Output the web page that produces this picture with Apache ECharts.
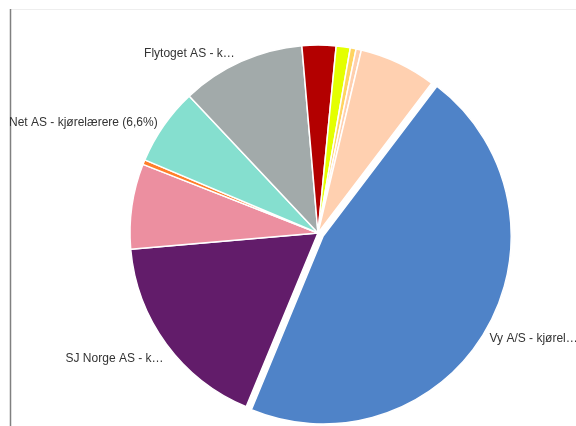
<!DOCTYPE html>
<html>
<head>
<meta charset="utf-8">
<script src="https://cdn.jsdelivr.net/npm/echarts@6/dist/echarts.min.js"></script>
<style>
html,body{margin:0;padding:0;background:#fff;}
#c{width:576px;height:426px;}
</style>
</head>
<body>
<div id="c"></div>
<script>
// Data (clockwise order as drawn)
const names = [
  "Vy A/S - kjørelærere",
  "SJ Norge AS - kjørelærere",
  "Go-Ahead Norge AS - kjørelærere",
  "CargoNet AS - kjørelærere",
  "Net AS - kjørelærere",
  "Flytoget AS - kjørelærere",
  "Vy Gjøvikbanen AS - kjørelærere",
  "Bane NOR SF - kjørelærere",
  "Green Cargo AB - kjørelærere",
  "Hector Rail AB - kjørelærere",
  "Andre - kjørelærere"
];
const values = [45.7, 17.3, 7.3, 0.4, 6.6, 10.6, 2.9, 1.2, 0.5, 0.45, 6.6];
const colors = ["#4f83c8", "#621c6a", "#ec8fa0", "#ff7f2a", "#85dfcf", "#a2aaaa", "#b30000", "#e4ff00", "#ffd461", "#ffcfae", "#ffd0b0"];
// characters kept before the ellipsis (0 = no label, -1 = full label)
const labelChars = [15, 15, 0, 0, -1, 15, 0, 0, 0, 0, 0];
const explodedIndex = 0;

const total = values.reduce((a, b) => a + b, 0);
const chart = echarts.init(document.getElementById('c'), null, {renderer: 'canvas'});
const data = names.map((n, i) => ({
  name: n,
  value: values[i],
  selected: i === explodedIndex,
  itemStyle: {color: colors[i]},
  label: {show: labelChars[i] !== 0}
}));

// small label nudges (layout only)
const nudge = {0: [-9, 6], 1: [9, 11], 4: [6, 0], 5: [3, -2]};

chart.setOption({
  animation: false,
  graphic: [
    {type: 'line', shape: {x1: 10, y1: 9.5, x2: 576, y2: 9.5}, style: {stroke: '#eeeeee', lineWidth: 1}, z: -5},
    {type: 'line', shape: {x1: 10.5, y1: 9, x2: 10.5, y2: 426}, style: {stroke: '#808080', lineWidth: 1.5}, z: -5}
  ],
  series: [{
    type: 'pie',
    center: [318, 233],
    radius: 188,
    startAngle: 52.8,
    clockwise: true,
    selectedMode: 'single',
    selectedOffset: 6,
    avoidLabelOverlap: false,
    itemStyle: {borderColor: '#ffffff', borderWidth: 1.5},
    label: {
      show: true,
      position: 'outside',
      color: '#333333',
      fontSize: 12,
      fontFamily: 'Liberation Sans, Arial, sans-serif',
      formatter: function (p) {
        const pct = (p.value / total * 100).toFixed(1).replace('.', ',');
        const full = p.name + ' (' + pct + '%)';
        const n = labelChars[p.dataIndex];
        if (n < 0) return full;
        return full.length > n ? full.slice(0, n) + '…' : full;
      }
    },
    labelLine: {show: false, length: 6, length2: 2},
    labelLayout: function (p) {
      const d = nudge[p.dataIndex];
      return d ? {dx: d[0], dy: d[1]} : {};
    },
    emphasis: {disabled: true},
    data: data
  }]
});
</script>
</body>
</html>
